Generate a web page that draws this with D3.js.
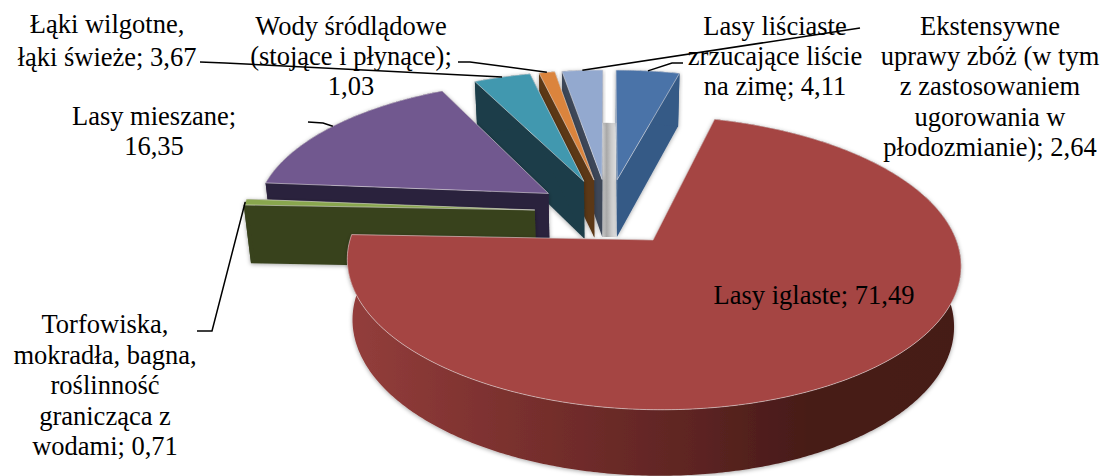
<!doctype html>
<html>
<head>
<meta charset="utf-8">
<script src="https://cdn.jsdelivr.net/npm/d3@7"></script>
<style>
  html, body { margin: 0; background: #fff; }
  text { font-family: "Liberation Serif", serif; font-size: 26.5px; fill: #000; }
</style>
</head>
<body>
<script>
const categories = ["Lasy liściaste", "Lasy iglaste", "Torfowiska", "Lasy mieszane", "Łąki", "Wody", "Ekstensywne uprawy"];
const values = [4.11, 71.49, 0.71, 16.35, 3.67, 1.03, 2.64];
const labelLines = [
  ["Lasy liściaste", "zrzucające liście", "na zimę; 4,11"],
  ["Lasy iglaste; 71,49"],
  ["Torfowiska,", "mokradła, bagna,", "roślinność", "granicząca z", "wodami; 0,71"],
  ["Lasy mieszane;", "16,35"],
  ["Łąki wilgotne,", "łąki świeże; 3,67"],
  ["Wody śródlądowe", "(stojące i płynące);", "1,03"],
  ["Ekstensywne", "uprawy zbóż (w tym", "z zastosowaniem", "ugorowania w", "płodozmianie); 2,64"]
];
const topColors = ["#4a73a8", "#a54543", "#89a64e", "#71588f", "#4198af", "#db843d", "#93a9cf"];
const sideColors = ["#355a86", "#7a302e", "#39431f", "#2c213e", "#1b3d48", "#5b3818", "#3d4759"];

// label centre x, first line y, line step
const labelPos = [[775, 35, 30], [814, 304, 30], [105, 333, 30.5], [154, 125, 30], [107, 33, 33], [351, 35, 30], [990, 35, 30.2]];
// where each leader leaves its label (red has none)
const leaderElbows = [
  [[683, 63], [672, 63]],
  null,
  [[197, 331], [212, 331]],
  [[308, 122], [323, 123]],
  [[200, 62], [225, 63]],
  [[458, 62], [470, 62]],
  [[860, 28]]
];

const width = 1102, height = 476;
const cx = 608, cy = 212, rx = 294, ry = 135;
const explode = 0.25, persp = 0.15, depth = 58.6, baseShrink = 0.98;

const slices = d3.pie().sort(null).startAngle(0).endAngle(2 * Math.PI)(values)
  .map((d, i) => ({...d, i, mid: (d.startAngle + d.endAngle) / 2}));

function project(d, angle, r, base) {
  const X = r * Math.sin(angle) + explode * Math.sin(d.mid);
  const Y = r * Math.cos(angle) + explode * Math.cos(d.mid);
  const w = 1 / (1 + persp * Y);
  const x = rx * X * w * (base ? baseShrink : 1);
  const y = -ry * Y * w + (base ? depth * Math.pow(w, 0.6) : 0);
  return [cx + x, cy + y];
}

function arcPoints(d, base) {
  const n = Math.ceil((d.endAngle - d.startAngle) / 0.01);
  return d3.range(n + 1).map((k) => project(d, d.startAngle + (d.endAngle - d.startAngle) * k / n, 1, base));
}

const line = d3.line();
const closed = (pts) => line(pts) + "Z";

const svg = d3.select("body").append("svg")
    .attr("width", width)
    .attr("height", height)
    .style("display", "block");

const defs = svg.append("defs");

const shadow = defs.append("filter").attr("id", "shadow")
    .attr("x", "-5%").attr("y", "-5%").attr("width", "110%").attr("height", "110%");
shadow.append("feDropShadow")
    .attr("dx", 0).attr("dy", 1).attr("stdDeviation", 2)
    .attr("flood-color", "#000").attr("flood-opacity", 0.35);

const rimGradient = defs.append("linearGradient").attr("id", "rim")
    .attr("gradientUnits", "userSpaceOnUse")
    .attr("x1", 345).attr("x2", 962).attr("y1", 0).attr("y2", 0);
[[0, "#943e3c"], [0.25, "#7c312f"], [0.55, "#5f2523"], [0.75, "#471b18"], [1, "#451a17"]]
  .forEach(([o, c]) => rimGradient.append("stop").attr("offset", o).attr("stop-color", c));

const gapGradient = defs.append("linearGradient").attr("id", "gap");
[[0, "#d8d8d8"], [0.3, "#a8a8a8"], [0.6, "#c8c8c8"], [1, "#eeeeee"]]
  .forEach(([o, c]) => gapGradient.append("stop").attr("offset", o).attr("stop-color", c));

// grey sliver seen through the gap between the first and the last slice
const first = slices[0], last = slices[slices.length - 1];
svg.append("path")
    .attr("fill", "url(#gap)")
    .attr("d", closed([
      project(last, last.endAngle, 1, true),
      project(first, first.startAngle, 1, true),
      project(first, first.startAngle, 0, true),
      project(last, last.endAngle, 0, true)
    ]));

// back to front
const order = slices.slice().sort((a, b) => Math.cos(b.mid) - Math.cos(a.mid));

const pieces = svg.selectAll("g.slice").data(order).join("g")
    .attr("class", "slice");

pieces.append("g")
    .attr("filter", "url(#shadow)")
    .call((g) => {
      // cut faces
      g.append("path")
          .attr("fill", (d) => sideColors[d.i])
          .attr("d", (d) => closed([project(d, d.startAngle, 0), project(d, d.startAngle, 1), project(d, d.startAngle, 1, true), project(d, d.startAngle, 0, true)]));
      g.append("path")
          .attr("fill", (d) => sideColors[d.i])
          .attr("d", (d) => closed([project(d, d.endAngle, 0), project(d, d.endAngle, 1), project(d, d.endAngle, 1, true), project(d, d.endAngle, 0, true)]));
      // outer wall
      g.append("path")
          .attr("fill", (d) => d.i === 1 ? "url(#rim)" : sideColors[d.i])
          .attr("d", (d) => closed(arcPoints(d).concat(arcPoints(d, true).reverse())));
    });

// top face
pieces.append("path")
    .attr("fill", (d) => topColors[d.i])
    .attr("stroke", "#e8e4e4")
    .attr("stroke-opacity", 0.7)
    .attr("stroke-width", 0.8)
    .attr("stroke-linejoin", "round")
    .attr("d", (d) => closed([project(d, d.startAngle, 0)].concat(arcPoints(d))));

// labels
svg.append("g").selectAll("text").data(labelLines).join("text")
    .attr("text-anchor", "middle")
    .attr("transform", (d, i) => `translate(${labelPos[i][0]},${labelPos[i][1]})`)
    .selectAll("tspan").data((d, i) => d.map((t, k) => ({t, k, step: labelPos[i][2]}))).join("tspan")
    .attr("x", 0)
    .attr("y", (d) => d.k * d.step)
    .text((d) => d.t);

// leader lines run from the label to the middle of the slice's outer edge
svg.append("g").selectAll("path")
  .data(slices.filter((d) => leaderElbows[d.i]))
  .join("path")
    .attr("fill", "none")
    .attr("stroke", "#000")
    .attr("stroke-width", 1.5)
    .attr("d", (d) => line(leaderElbows[d.i].concat([project(d, d.mid, 1)])));
</script>
</body>
</html>
